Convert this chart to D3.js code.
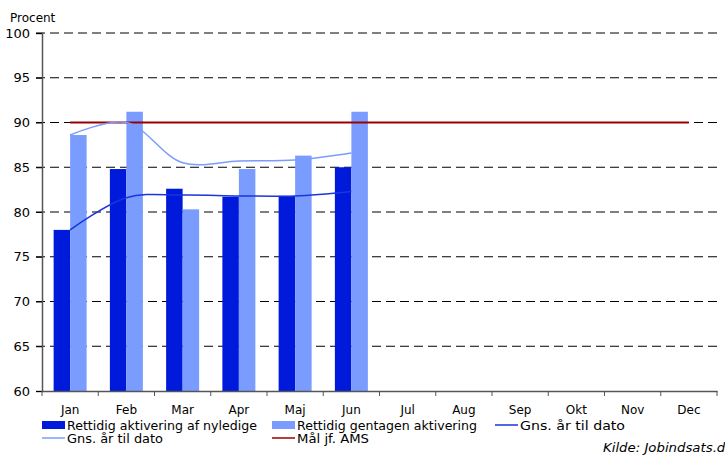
<!DOCTYPE html>
<html>
<head>
<meta charset="utf-8">
<script src="https://cdn.jsdelivr.net/npm/d3@7"></script>
<style>
  body { margin: 0; background: #fff; overflow: hidden; }
  text { font-family: "DejaVu Sans", Verdana, sans-serif; fill: #000; }
</style>
</head>
<body>
<svg id="chart"></svg>
<script>
const months = ['Jan', 'Feb', 'Mar', 'Apr', 'Maj', 'Jun', 'Jul', 'Aug', 'Sep', 'Okt', 'Nov', 'Dec'];
const nyledige = [78.0, 84.8, 82.6, 81.7, 81.8, 85.0];
const gentagen = [88.6, 91.2, 80.3, 84.8, 86.3, 91.2];
const gnsNyledige = [78.0, 81.6, 81.9, 81.8, 81.8, 82.3];
const gnsGentagen = [88.6, 90.0, 85.5, 85.7, 85.8, 86.6];
const maal = 90;
const yTicks = [60, 65, 70, 75, 80, 85, 90, 95, 100];

const width = 725, height = 457;
const plotLeft = 42, plotRight = 717, plotTop = 33, plotBottom = 391;

const svg = d3.select('#chart')
  .attr('width', width)
  .attr('height', height);

const x = d3.scaleBand()
  .domain(months)
  .range([plotLeft, plotRight]);

const y = d3.scaleLinear()
  .domain([60, 100])
  .range([plotBottom, plotTop]);

const barW = 16.5;
const cx = m => x(m) + x.bandwidth() / 2;

// grid lines
svg.append('g')
  .selectAll('line')
  .data(yTicks.filter(d => d > 60))
  .join('line')
  .attr('x1', plotLeft - 6)
  .attr('x2', plotRight)
  .attr('y1', d => y(d))
  .attr('y2', d => y(d))
  .attr('stroke', '#000')
  .attr('stroke-width', 1)
  .attr('stroke-dasharray', '9,5');

// bars
svg.append('g')
  .selectAll('rect')
  .data(nyledige)
  .join('rect')
  .attr('x', (d, i) => cx(months[i]) - barW)
  .attr('y', d => y(d))
  .attr('width', barW)
  .attr('height', d => y(60) - y(d))
  .attr('fill', '#001adc');

svg.append('g')
  .selectAll('rect')
  .data(gentagen)
  .join('rect')
  .attr('x', (d, i) => cx(months[i]))
  .attr('y', d => y(d))
  .attr('width', barW)
  .attr('height', d => y(60) - y(d))
  .attr('fill', '#7b9cff');

// target line
svg.append('line')
  .attr('x1', cx('Jan'))
  .attr('x2', cx('Dec'))
  .attr('y1', y(maal))
  .attr('y2', y(maal))
  .attr('stroke', '#990000')
  .attr('stroke-width', 2);

const line = d3.line()
  .x((d, i) => cx(months[i]))
  .y(d => y(d))
  .curve(d3.curveCatmullRom.alpha(0.5));

svg.append('path')
  .datum(gnsGentagen)
  .attr('d', line)
  .attr('fill', 'none')
  .attr('stroke', '#7b9cff')
  .attr('stroke-width', 1.5);

svg.append('path')
  .datum(gnsNyledige)
  .attr('d', line)
  .attr('fill', 'none')
  .attr('stroke', '#1a35d8')
  .attr('stroke-width', 1.5);

// axes
const yAxis = svg.append('g')
  .attr('transform', `translate(${plotLeft},0)`)
  .call(d3.axisLeft(y).tickValues(yTicks).tickSize(6).tickPadding(6));
yAxis.select('.domain').attr('stroke', '#555').attr('stroke-width', 1.5);
yAxis.selectAll('.tick line').attr('stroke', '#000');
yAxis.selectAll('text').attr('font-size', 13).attr('font-family', '"DejaVu Sans", Verdana, sans-serif');

const xAxis = svg.append('g')
  .attr('transform', `translate(0,${plotBottom})`)
  .call(d3.axisBottom(x).tickSize(0).tickPadding(14));
xAxis.select('.domain').attr('stroke', '#555').attr('stroke-width', 1.5);
xAxis.selectAll('text').attr('font-size', 12).attr('font-family', '"DejaVu Sans", Verdana, sans-serif');

svg.append('g')
  .selectAll('line')
  .data(months.concat(['end']))
  .join('line')
  .attr('x1', (d, i) => plotLeft + i * x.bandwidth())
  .attr('x2', (d, i) => plotLeft + i * x.bandwidth())
  .attr('y1', plotBottom)
  .attr('y2', plotBottom + 5)
  .attr('stroke', '#555');

svg.append('text')
  .attr('x', 10)
  .attr('y', 22)
  .attr('font-size', 12)
  .text('Procent');

// legend
const legend = [
  { label: 'Rettidig aktivering af nyledige', type: 'rect', color: '#001adc', x: 42, y: 425, w: 190 },
  { label: 'Rettidig gentagen aktivering', type: 'rect', color: '#7b9cff', x: 272, y: 425, w: 180 },
  { label: 'Gns. år til dato', type: 'line', color: '#1a35d8', x: 495, y: 425, w: 105 },
  { label: 'Gns. år til dato', type: 'line', color: '#7b9cff', x: 42, y: 438, w: 96 },
  { label: 'Mål jf. AMS', type: 'line', color: '#990000', x: 272, y: 438, w: 72 },
];

const lg = svg.append('g')
  .selectAll('g')
  .data(legend)
  .join('g')
  .attr('transform', d => `translate(${d.x},${d.y})`);

lg.filter(d => d.type === 'rect').append('rect')
  .attr('x', 0)
  .attr('y', -4)
  .attr('width', 23)
  .attr('height', 8)
  .attr('fill', d => d.color);

lg.filter(d => d.type === 'line').append('line')
  .attr('x1', 0)
  .attr('x2', 23)
  .attr('y1', 0)
  .attr('y2', 0)
  .attr('stroke', d => d.color)
  .attr('stroke-width', 1.5);

lg.append('text')
  .attr('x', 25)
  .attr('y', 5)
  .attr('font-size', 12)
  .attr('textLength', d => d.w)
  .attr('lengthAdjust', 'spacingAndGlyphs')
  .text(d => d.label);

svg.append('text')
  .attr('x', 603)
  .attr('y', 452)
  .attr('font-size', 12)
  .attr('font-style', 'italic')
  .attr('textLength', 130)
  .attr('lengthAdjust', 'spacingAndGlyphs')
  .text('Kilde: Jobindsats.dk');
</script>
</body>
</html>
